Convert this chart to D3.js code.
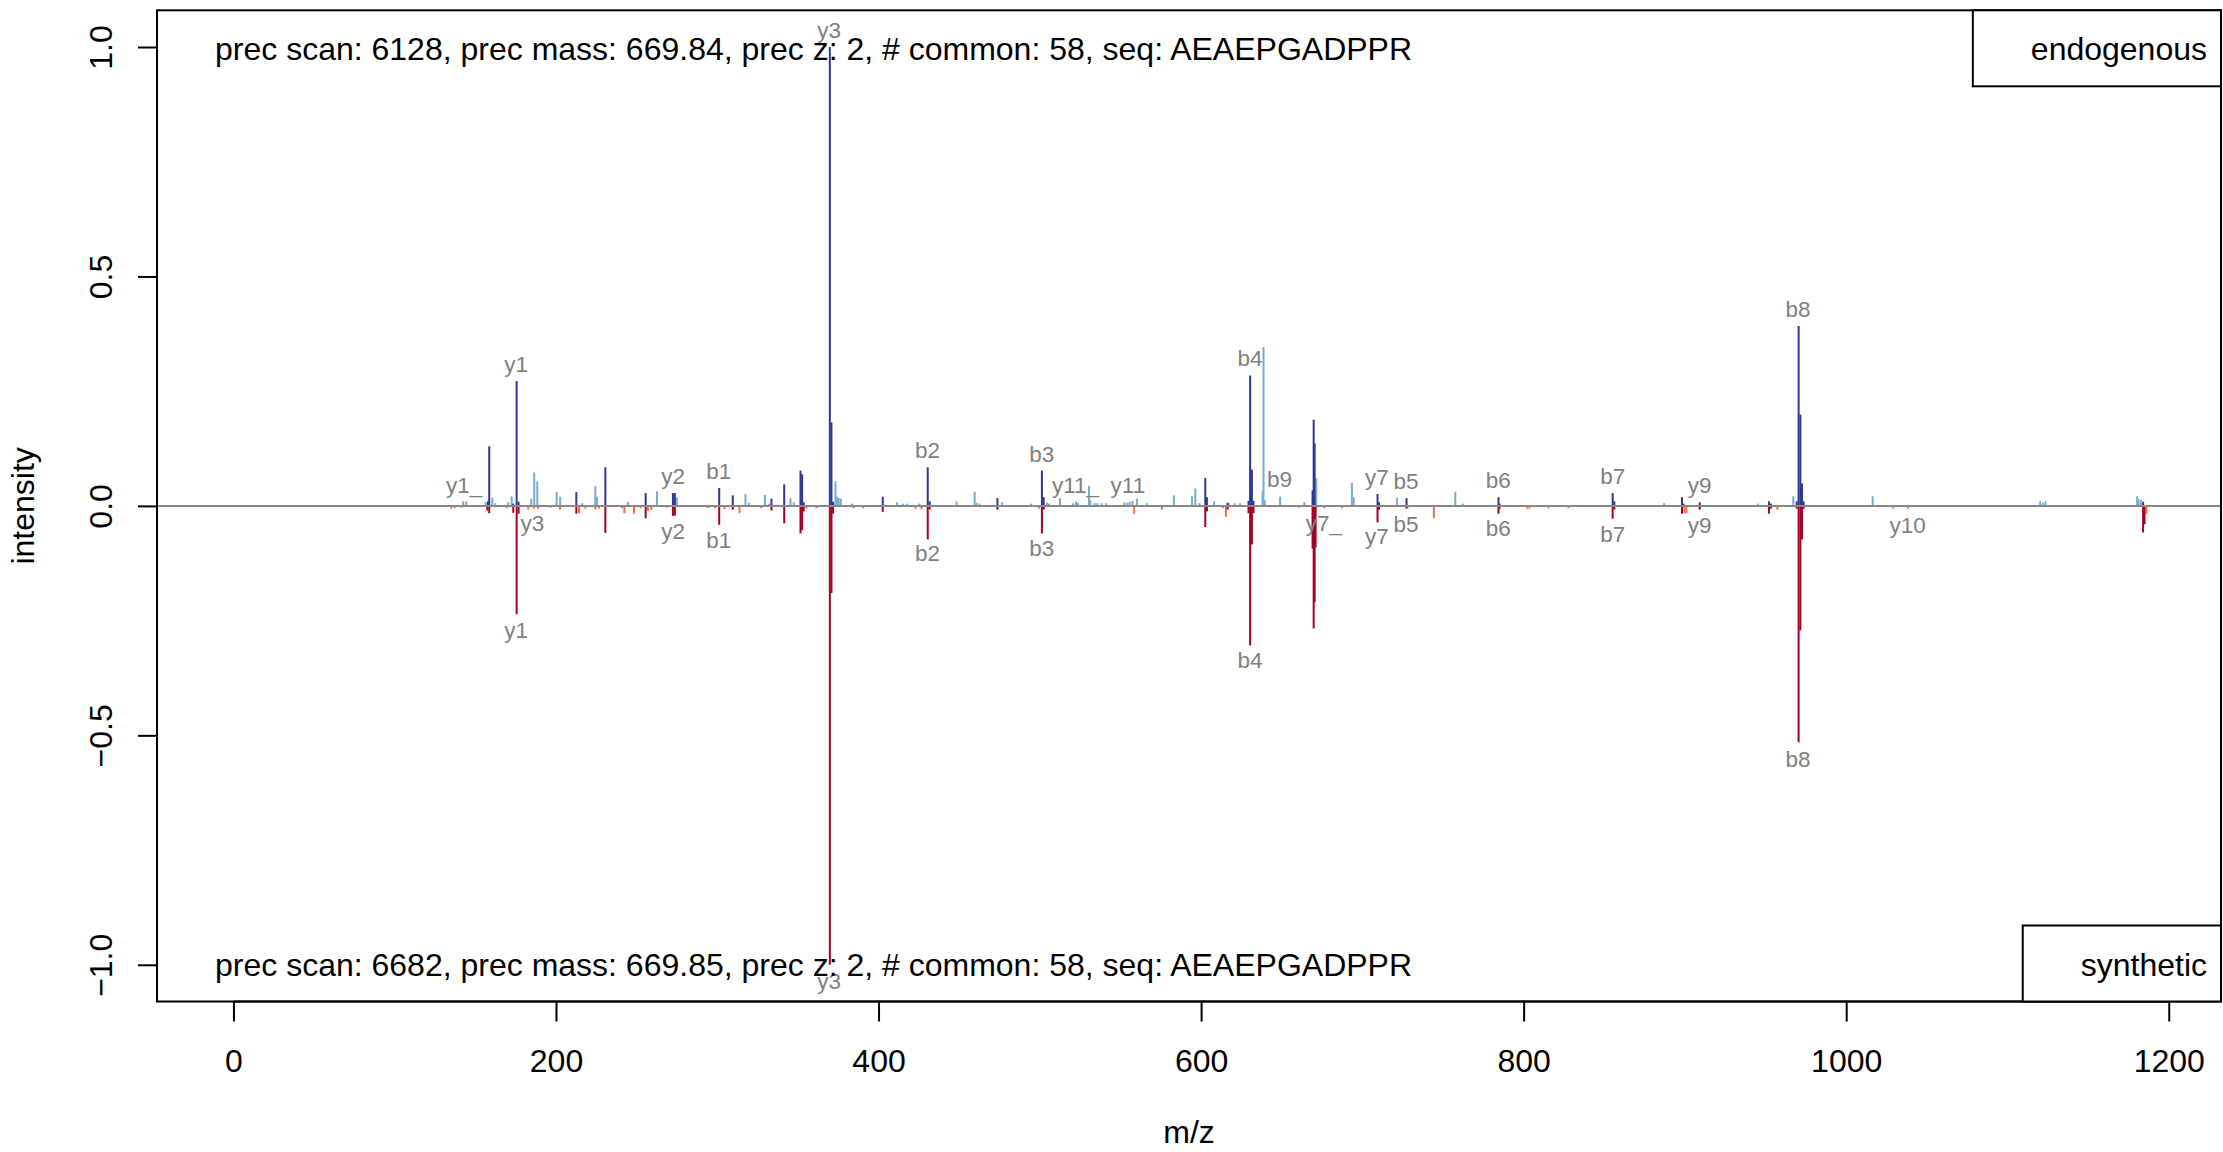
<!DOCTYPE html>
<html>
<head>
<meta charset="utf-8">
<script src="https://cdn.jsdelivr.net/npm/d3@7"></script>
<style>
  html, body { margin: 0; padding: 0; background: #fff; }
  svg { display: block; }
  text { font-family: "Liberation Sans", Arial, Helvetica, sans-serif; }
</style>
</head>
<body>
<svg id="chart" width="2223" height="1152"></svg>
<script>
// ---------------- DATA ----------------
// endogenous, matched peaks [m/z, relative intensity]
const endoMatched = [
  [157.8,0.010],[158.6,0.130],[173.5,0.005],[175.6,0.272],[176.8,0.009],[212.6,0.030],
  [230.6,0.084],[255.6,0.028],[272.5,0.028],[273.7,0.028],[301.2,0.039],[309.6,0.023],
  [333.6,0.016],[341.5,0.047],[351.6,0.077],[352.6,0.069],[353.6,0.008],[369.8,1.000],
  [370.8,0.182],[371.8,0.009],[402.6,0.020],[430.5,0.084],[431.7,0.010],[473.7,0.017],
  [501.3,0.077],[502.4,0.019],[602.6,0.061],[603.6,0.019],[616.4,0.007],[629.4,0.011],
  [630.4,0.284],[631.5,0.079],[632.5,0.011],[669.1,0.034],[669.8,0.188],[670.4,0.136],
  [709.4,0.026],[710.3,0.008],[727.4,0.017],[784.4,0.019],[785.1,0.005],[855.2,0.028],
  [856.2,0.010],[898.2,0.019],[899.1,0.005],[909.2,0.008],[952.1,0.010],[953.3,0.005],
  [969.3,0.010],[970.5,0.392],[971.6,0.199],[972.6,0.049],[973.6,0.010],[1184.1,0.009]
];
// endogenous, unmatched peaks
const endoOther = [
  [142.5,0.010],[144.4,0.010],[156.4,0.008],[160.5,0.018],[162.4,0.006],[170.4,0.008],
  [172.5,0.021],[184.7,0.016],[186.5,0.073],[188.4,0.053],[200.4,0.030],[202.6,0.020],
  [216.3,0.006],[224.4,0.043],[225.4,0.020],[244.6,0.009],[262.6,0.032],[274.9,0.019],
  [317.5,0.026],[319.6,0.007],[329.5,0.024],[332.2,0.005],[345.4,0.017],[347.4,0.008],
  [373.3,0.054],[374.3,0.020],[375.3,0.017],[376.6,0.016],[383.6,0.005],[411.5,0.008],
  [415.2,0.005],[417.7,0.005],[425.3,0.005],[448.3,0.010],[459.6,0.031],[460.7,0.007],
  [462.5,0.005],[476.6,0.008],[494.5,0.005],[504.4,0.007],[505.7,0.005],[512.5,0.017],
  [520.5,0.006],[522.4,0.009],[523.6,0.007],[530.5,0.044],[531.3,0.012],[534.0,0.006],
  [535.6,0.006],[538.3,0.006],[541.2,0.006],[552.4,0.008],[554.2,0.007],[555.7,0.009],
  [557.5,0.011],[560.2,0.016],[566.4,0.006],[583.1,0.023],[594.3,0.021],[596.4,0.038],
  [599.0,0.006],[608.1,0.010],[617.2,0.006],[620.7,0.006],[624.2,0.006],[638.1,0.032],
  [638.7,0.346],[639.5,0.012],[649.0,0.020],[664.0,0.008],[671.4,0.060],[693.5,0.050],
  [694.6,0.019],[721.4,0.018],[757.6,0.031],[762.3,0.005],[887.1,0.006],[945.3,0.005],
  [967.2,0.021],[1016.4,0.021],[1120.3,0.010],[1122.0,0.007],[1123.6,0.010],
  [1180.4,0.021],[1181.2,0.016],[1182.7,0.013]
];
// synthetic, matched peaks (drawn downward)
const synMatched = [
  [157.4,0.010],[158.6,0.016],[173.5,0.015],[175.6,0.236],[176.8,0.017],[212.6,0.017],
  [230.6,0.059],[255.6,0.027],[272.5,0.022],[273.7,0.021],[301.2,0.041],[309.6,0.008],
  [333.6,0.010],[341.5,0.038],[351.6,0.060],[352.6,0.053],[353.6,0.012],[369.8,1.000],
  [370.8,0.190],[371.8,0.017],[402.6,0.013],[430.5,0.073],[431.7,0.008],[473.7,0.008],
  [501.3,0.060],[502.4,0.008],[602.6,0.046],[603.6,0.012],[616.4,0.008],[629.4,0.016],
  [630.4,0.304],[631.5,0.084],[632.5,0.016],[669.1,0.093],[669.8,0.267],[670.4,0.210],
  [671.0,0.090],[709.4,0.036],[710.3,0.008],[727.4,0.006],[784.4,0.017],[785.1,0.006],
  [855.2,0.028],[856.2,0.008],[898.2,0.017],[909.2,0.008],[952.1,0.017],[953.3,0.006],
  [969.3,0.006],[970.5,0.515],[971.6,0.271],[972.6,0.073],[973.6,0.006],
  [1184.1,0.058],[1185.0,0.040]
];
// synthetic, unmatched peaks (drawn downward)
const synOther = [
  [135.1,0.006],[137.2,0.005],[141.5,0.004],[169.4,0.005],[182.8,0.008],[186.3,0.006],
  [188.9,0.006],[196.5,0.004],[202.5,0.008],[214.3,0.016],[218.2,0.006],[224.4,0.008],
  [226.7,0.006],[241.0,0.005],[242.4,0.016],[248.4,0.017],[252.5,0.005],[257.0,0.011],
  [259.1,0.009],[268.6,0.004],[293.8,0.004],[295.0,0.004],[298.6,0.005],[304.5,0.007],
  [313.8,0.016],[327.2,0.005],[355.3,0.006],[361.5,0.005],[384.6,0.005],[390.4,0.005],
  [422.9,0.006],[426.6,0.007],[499.5,0.006],[558.5,0.017],[575.7,0.008],[613.5,0.005],
  [615.4,0.024],[660.6,0.004],[676.4,0.005],[687.3,0.005],[728.2,0.004],[744.3,0.027],
  [802.2,0.006],[803.6,0.006],[815.4,0.005],[827.8,0.005],[899.7,0.016],[900.9,0.016],
  [957.3,0.008],[1029.2,0.006],[1038.3,0.006],[1186.2,0.017]
];
// fragment labels [text, m/z, intensity of labelled peak]
const topLabels = [
  ["y1_",143.0,0.008],["y1",175.3,0.272],["y2",272.6,0.028],["b1",301.0,0.040],
  ["y3",369.3,1.000],["b2",430.3,0.085],["b3",501.2,0.077],["y11_",522.1,0.009],
  ["y11",554.6,0.009],["b4",630.3,0.285],["b9",648.6,0.021],["y7",709.0,0.025],
  ["b5",727.0,0.018],["b6",784.2,0.019],["b7",855.3,0.029],["y9",909.1,0.008],
  ["b8",970.1,0.391]
];
const bottomLabels = [
  ["y3",185.3,0.003],["y1",175.3,0.235],["y2",272.6,0.020],["b1",301.0,0.039],
  ["y3",369.3,1.000],["b2",430.3,0.068],["b3",501.2,0.057],["b4",630.3,0.301],
  ["y7_",676.2,0.002],["y7",709.0,0.030],["b5",727.0,0.004],["b6",784.2,0.014],
  ["b7",855.3,0.026],["y9",909.1,0.007],["b8",970.1,0.517],["y10",1038.1,0.007]
];
const xTicks = [0, 200, 400, 600, 800, 1000, 1200];
const yTicks = [-1.0, -0.5, 0.0, 0.5, 1.0];
const topInfo = "prec scan: 6128, prec mass: 669.84, prec z: 2, # common: 58, seq: AEAEPGADPPR";
const bottomInfo = "prec scan: 6682, prec mass: 669.85, prec z: 2, # common: 58, seq: AEAEPGADPPR";
const topLegend = "endogenous";
const bottomLegend = "synthetic";

// ---------------- LAYOUT ----------------
const W = 2223, H = 1152;
const margin = {left: 157, right: 2, top: 10.3, bottom: 150.5};
const FS = 32, LFS = 22.5;
const col = {endoM: "#313695", endoO: "#74ADD1", synM: "#A50026", synO: "#F46D43", label: "#808080"};

const svg = d3.select("#chart");
const x = d3.scaleLinear().domain([-47.4, 1232.4]).range([margin.left, W - margin.right]);
const y = d3.scaleLinear().domain([-1.08, 1.08]).range([H - margin.bottom, margin.top]);

const fmt = v => (v < 0 ? "\u2212" : "") + Math.abs(v).toFixed(1);

// peaks (type = "h")
function drawPeaks(data, sign, color) {
  svg.append("g").selectAll("line").data(data).join("line")
    .attr("x1", d => x(d[0])).attr("x2", d => x(d[0]))
    .attr("y1", y(0)).attr("y2", d => y(sign * d[1]))
    .attr("stroke", color).attr("stroke-width", 2);
}
drawPeaks(endoOther, 1, col.endoO);
drawPeaks(endoMatched, 1, col.endoM);
drawPeaks(synOther, -1, col.synO);
drawPeaks(synMatched, -1, col.synM);

// zero line
svg.append("line")
  .attr("x1", x.range()[0]).attr("x2", x.range()[1])
  .attr("y1", y(0)).attr("y2", y(0))
  .attr("stroke", "#888888").attr("stroke-width", 2);

// labels
svg.append("g").selectAll("text").data(topLabels).join("text")
  .attr("x", d => x(d[1])).attr("y", d => y(d[2]) - 9)
  .attr("text-anchor", "middle").attr("font-size", LFS).attr("fill", col.label)
  .text(d => d[0]);
svg.append("g").selectAll("text").data(bottomLabels).join("text")
  .attr("x", d => x(d[1])).attr("y", d => y(-d[2]) + 24)
  .attr("text-anchor", "middle").attr("font-size", LFS).attr("fill", col.label)
  .text(d => d[0]);

// axes
const xAxis = svg.append("g").attr("transform", `translate(0,${y.range()[0]})`)
  .call(d3.axisBottom(x).tickValues(xTicks).tickSize(20).tickPadding(28).tickFormat(d3.format("d")));
xAxis.select(".domain").attr("d", `M${x(xTicks[0])},0H${x(xTicks[xTicks.length-1])}`)
  .attr("stroke", "#000").attr("stroke-width", 2);
xAxis.selectAll(".tick line").attr("stroke", "#000").attr("stroke-width", 2);
xAxis.selectAll(".tick text").attr("font-size", FS).attr("fill", "#000")
  .attr("font-family", '"Liberation Sans", Arial, Helvetica, sans-serif');

const yAxis = svg.append("g").attr("transform", `translate(${x.range()[0]},0)`)
  .call(d3.axisLeft(y).tickValues(yTicks).tickSize(19).tickFormat(fmt));
yAxis.select(".domain").attr("d", `M0,${y(yTicks[0])}V${y(yTicks[yTicks.length-1])}`)
  .attr("stroke", "#000").attr("stroke-width", 2);
yAxis.selectAll(".tick line").attr("stroke", "#000").attr("stroke-width", 2);
yAxis.selectAll(".tick text")
  .attr("x", 0).attr("y", -45).attr("dy", null)
  .attr("text-anchor", "middle").attr("transform", "rotate(-90)")
  .attr("font-size", FS).attr("fill", "#000")
  .attr("font-family", '"Liberation Sans", Arial, Helvetica, sans-serif');

// plot box
svg.append("rect")
  .attr("x", x.range()[0]).attr("y", y.range()[1])
  .attr("width", x.range()[1] - x.range()[0]).attr("height", y.range()[0] - y.range()[1])
  .attr("fill", "none").attr("stroke", "#000").attr("stroke-width", 2);

// axis titles
svg.append("text").attr("x", (x.range()[0] + x.range()[1]) / 2).attr("y", 1143)
  .attr("text-anchor", "middle").attr("font-size", FS).text("m/z");
svg.append("text")
  .attr("transform", `translate(33.5,${(y.range()[0] + y.range()[1]) / 2}) rotate(-90)`)
  .attr("text-anchor", "middle").attr("font-size", FS).text("intensity");

// legends
const boxH = 76, padL = 58, padR = 14;
function legend(label, top, anchorRight, boxed) {
  const g = svg.append("g");
  const t = g.append("text").attr("font-size", FS).text(label);
  const tw = t.node().getComputedTextLength();
  const bw = padL + tw + padR;
  const bx = anchorRight ? x.range()[1] - bw : x.range()[0];
  t.attr("x", bx + padL).attr("y", top + boxH / 2 + 12);
  if (boxed) {
    g.insert("rect", "text").attr("x", bx).attr("y", top).attr("width", bw).attr("height", boxH)
      .attr("fill", "#fff").attr("stroke", "#000").attr("stroke-width", 2);
  }
}
legend(topInfo, y.range()[1], false, false);
legend(bottomInfo, y.range()[0] - boxH, false, false);
legend(topLegend, y.range()[1], true, true);
legend(bottomLegend, y.range()[0] - boxH, true, true);
</script>
</body>
</html>
